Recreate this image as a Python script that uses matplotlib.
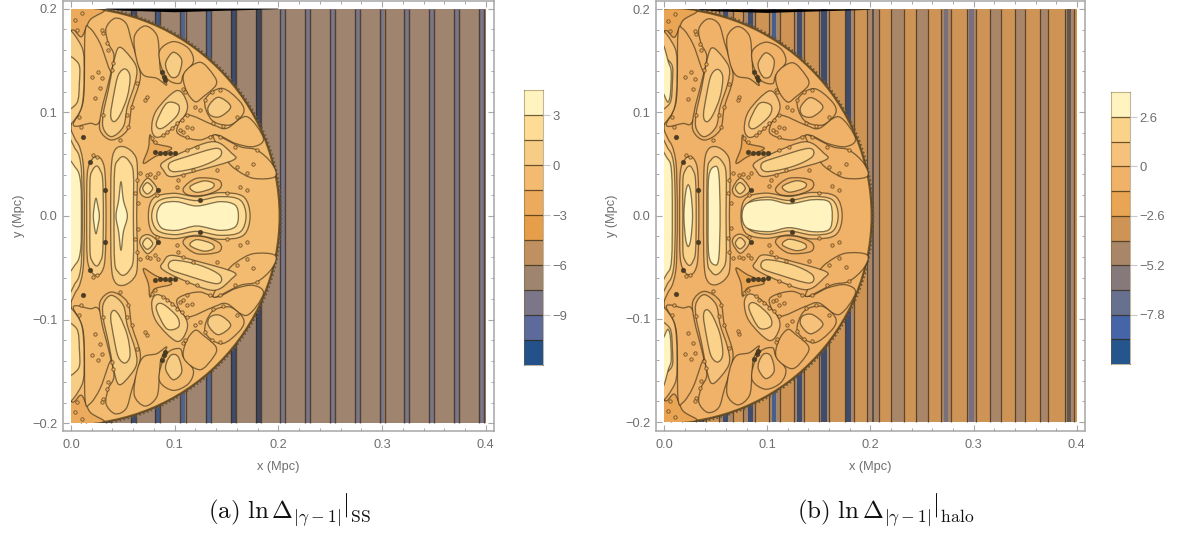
import matplotlib
matplotlib.use('Agg')
import matplotlib.pyplot as plt
from matplotlib.path import Path
from matplotlib.patches import PathPatch, Rectangle, Wedge, Polygon

plt.rcParams['font.family'] = ['Liberation Sans', 'DejaVu Sans']
plt.rcParams['mathtext.fontset'] = 'cm'

W, H = 1182, 534
GRAY = '#6e6e6e'
FRAME = '#a6a6a6'
LINE = (0.22, 0.17, 0.08, 0.62)

# colour bands, top to bottom
COLORS_A = ['#FFF3C0', '#FFDC95', '#F7CC85', '#F2BB70', '#EBAA5C', '#E69E4B',
            '#C09060', '#9F8570', '#7C7788', '#5C6B9B', '#23528A']
COLORS_B = ['#FFF3C0', '#FAD28A', '#F6C27B', '#EFB268', '#E9A454', '#CE9455',
            '#A98668', '#85797C', '#67708F', '#4565A8', '#24558C']
BAND_TOP_A, BAND_STEP_A = 4.5, 1.5
BAND_TOP_B, BAND_STEP_B = 3.9, 1.3
TICKS_A = [3, 0, -3, -6, -9]
TICKS_B = [2.6, 0, -2.6, -5.2, -7.8]
LABELS_A = ['3', '0', '\u22123', '\u22126', '\u22129']
LABELS_B = ['2.6', '0', '\u22122.6', '\u22125.2', '\u22127.8']

# stripe centres (Mpc)
STRIPES_A = [.012, .036, .060, .0836, .108, .1325, .1566, .1807, .2042, .228,
             .2522, .2763, .300, .3237, .3477, .372, .3957]
STRIPE_INNER_A = ['#3E4E70', '#3E4E70', '#3E4E70', '#465A80', '#4F6590', '#4F6590',
                  '#3F4C6C', '#3F4660', '#7C7788', '#7C7788', '#7C7788', '#7C7788',
                  '#7C7788', '#7C7788', '#7C7788', '#7C7788', '#7C7788']
# panel b: brown bands (left, right) and their cores (centre, width, colour)
BANDS_B = [(.007, .017), (.031, .041), (.053, .067), (.0765, .088), (.102, .112),
           (.126, .136), (.150, .160), (.175, .184), (.1967, .2083), (.2196, .2324),
           (.244, .2556), (.2687, .2784), (.2933, .3028), (.3163, .3266),
           (.3404, .350), (.3645, .3722), (.3883, .3973)]
CORES_B = [(.012, .005, '#33415f'), (.036, .005, '#33415f'), (.0598, .005, '#3F4C6C'),
           (.0839, .005, '#3F4C6C'), (.107, .004, '#46608c'), (.131, .005, '#3F4C6C'),
           (.155, .005, '#3F4C6C'), (.179, .005, '#3F4C6C'), (.2025, .0015, '#5b5048'),
           (.2735, .004, '#7a7078'), (.298, .005, '#777080'), (.3925, .004, '#62584f')]

# contour regions: (band index, points on the contour, in crop pixels, upper half)
CORNER = [(4, [(70, 30), (190, 30), (150, 60), (125, 110), (100, 90), (70, 100)])]
OUTLINES = [
    (3, [(135, 100), (150, 85), (180, 130), (205, 200), (215, 230), (200, 310), (175, 370), (150, 370), (100, 375), (130, 300)]),
    (3, [(198, 85), (225, 55), (258, 70), (275, 125), (295, 190), (300, 240), (275, 320), (262, 390), (215, 420),
         (180, 390), (185, 330), (205, 250), (222, 170), (205, 130)]),
    (3, [(283, 110), (315, 78), (350, 105), (358, 165), (362, 215), (380, 255), (350, 235), (310, 225), (290, 180)]),
    (3, [(360, 150), (400, 125), (445, 145), (460, 185), (430, 225), (420, 250), (385, 240), (362, 195)]),
    (3, [(432, 220), (480, 187), (520, 225), (528, 255), (490, 290), (465, 305), (438, 270)]),
    (3, [(495, 300), (545, 265), (600, 305), (610, 340), (570, 375), (515, 360)]),
    (3, [(440, 345), (520, 375), (560, 385), (620, 350), (670, 415), (640, 440), (585, 430), (530, 405), (480, 420), (430, 410), (410, 390)]),
    (3, [(520, 405), (600, 440), (650, 450), (695, 490), (705, 530), (640, 535), (590, 510), (560, 480)]),
    (3, [(430, 565), (470, 535), (535, 540), (540, 565), (495, 585), (445, 585)]),
    (4, [(310, 490), (325, 445), (330, 405), (345, 430), (395, 445), (345, 470)]),
]
LOBES = [
    (2, [(70, 100), (125, 140), (132, 230), (125, 320), (95, 370), (70, 385)]),
    (1, [(70, 175), (115, 190), (118, 250), (110, 310), (70, 320)]),
    (2, [(240, 142), (270, 170), (290, 205), (285, 250), (262, 320), (250, 380), (215, 410), (190, 385), (190, 340), (205, 270), (225, 170)]),
    (1, [(255, 207), (270, 230), (262, 290), (240, 345), (222, 365), (212, 345), (222, 280), (235, 225)]),
    (2, [(378, 185), (400, 157), (425, 180), (415, 225), (395, 232), (380, 210)]),
    (2, [(505, 320), (535, 292), (572, 320), (540, 350), (510, 345)]),
    (2, [(335, 385), (350, 330), (410, 272), (440, 305), (435, 345), (385, 395), (350, 412)]),
    (1, [(350, 365), (380, 310), (415, 315), (412, 345), (375, 380), (355, 385)]),
    (2, [(365, 490), (420, 460), (520, 425), (575, 460), (580, 480), (480, 510), (395, 530), (370, 510)]),
    (1, [(388, 490), (440, 470), (530, 445), (540, 470), (480, 500), (400, 515)]),
    (1, [(450, 560), (490, 543), (520, 550), (515, 565), (470, 577)]),
    (2, [(300, 565), (322, 535), (345, 555), (350, 575), (325, 592), (305, 585)]),
    (1, [(308, 565), (322, 548), (338, 565), (322, 582)]),
]
# regions straddling y = 0, upper half only
AXIAL = [
    (2, [(70, 410), (110, 425), (128, 480), (132, 560), (133, 648)]),
    (1, [(70, 435), (108, 450), (122, 490), (126, 560), (127, 648)]),
    (2, [(140, 648), (142, 520), (155, 480), (170, 470), (185, 480), (195, 520), (198, 648)]),
    (1, [(150, 648), (150, 540), (158, 510), (170, 498), (180, 510), (188, 540), (190, 648)]),
    (2, [(212, 648), (214, 500), (225, 450), (250, 440), (280, 460), (292, 500), (290, 648)]),
    (1, [(222, 648), (224, 510), (235, 480), (250, 470), (268, 485), (280, 520), (280, 648)]),
    (2, [(325, 648), (340, 595), (400, 580), (470, 590), (540, 578), (610, 590), (630, 648)]),
    (1, [(335, 648), (352, 605), (405, 592), (470, 602), (540, 590), (600, 600), (618, 648)]),
]
CORE_A = [
    (0, [(70, 495), (108, 505), (122, 550), (124, 648)]),
    (0, [(160, 648), (164, 610), (168, 595), (172, 610), (178, 648)]),
    (0, [(228, 648), (236, 600), (243, 545), (250, 600), (262, 648)]),
    (0, [(350, 648), (365, 612), (410, 605), (470, 618), (540, 605), (585, 615), (595, 648)]),
]
CORE_B = [
    (0, [(70, 470), (105, 478), (116, 520), (118, 648)]),
    (0, [(153, 648), (158, 580), (166, 555), (174, 580), (179, 648)]),
    (0, [(226, 648), (228, 530), (245, 500), (258, 520), (262, 648)]),
    (0, [(328, 648), (345, 610), (410, 600), (470, 612), (540, 600), (590, 606), (600, 648)]),
    (0, [(70, 185), (110, 195), (114, 250), (106, 305), (70, 315)]),
]
SPECK_DARK = [(345, 455), (360, 458), (375, 458), (390, 458), (405, 460), (372, 230), (375, 240),
              (365, 215), (130, 412), (150, 485), (195, 570), (355, 570), (480, 600)]
SPECK_RING = [(122, 380), (118, 350), (430, 268), (435, 275), (320, 290), (315, 300), (275, 320),
              (260, 345), (265, 380), (240, 420), (290, 250), (190, 345), (165, 295), (175, 215),
              (185, 235), (155, 230), (180, 265), (335, 415), (345, 425), (470, 440), (440, 450),
              (510, 410), (540, 410), (585, 440), (640, 492), (590, 500), (620, 520), (530, 510),
              (460, 510), (430, 525), (415, 540), (410, 560), (355, 520), (300, 520), (290, 540),
              (285, 580), (295, 610), (560, 580), (620, 570), (495, 300), (465, 320), (480, 330),
              (520, 370), (550, 378), (590, 350), (440, 410), (430, 395), (440, 380), (420, 390),
              (455, 385), (515, 275), (540, 270), (370, 405), (380, 395), (395, 385), (410, 370),
              (425, 360), (440, 345), (200, 130), (205, 150), (190, 100), (185, 90), (215, 210),
              (220, 190), (105, 60), (125, 40), (110, 90), (170, 470), (160, 465), (320, 525),
              (330, 522), (345, 530), (350, 585), (600, 560), (650, 450)]


def to_data(pts):
    return [((x - 93) / 3110, (648 - y) / 3110) for x, y in pts]


def mirror(pts):
    return [(x, -y) for x, y in pts]


def blob(pts):
    # closed smooth outline passing through the given points
    n = len(pts)
    verts, codes = [pts[0]], [Path.MOVETO]
    for i in range(n):
        p0, p1, p2, p3 = pts[i - 1], pts[i], pts[(i + 1) % n], pts[(i + 2) % n]
        verts += [(p1[0] + (p2[0] - p0[0]) / 6, p1[1] + (p2[1] - p0[1]) / 6),
                  (p2[0] - (p3[0] - p1[0]) / 6, p2[1] - (p3[1] - p1[1]) / 6), p2]
        codes += [Path.CURVE4] * 3
    return Path(verts, codes)


def add_region(ax, clip, colors, level, pts):
    p = PathPatch(blob(pts), facecolor=colors[level], edgecolor=LINE, lw=0.95, zorder=4)
    ax.add_patch(p)
    p.set_clip_path(clip)


def panel(px, colors, x0, y0, scale, core, kind, cbar, levels, ticks, labels):
    left, right, top, bottom = px
    ax = fig.add_axes([left / W, 1 - bottom / H, (right - left) / W, (bottom - top) / H])
    ax.set_xlim((left - x0) / scale, (right - x0) / scale)
    ax.set_ylim((y0 - bottom) / scale, (y0 - top) / scale)
    clip = Rectangle((0, -.2), .4, .4, transform=ax.transData)
    bg = Rectangle((0, -.2), .4, .4, facecolor=colors[7] if kind == 'a' else colors[5], edgecolor='none', zorder=1)
    ax.add_patch(bg)
    edge = (0.2, 0.15, 0.1, 0.7)
    if kind == 'a':
        for c, inner in zip(STRIPES_A, STRIPE_INNER_A):
            sp = Rectangle((c - .0023, -.2), .0046, .4, facecolor=inner, edgecolor='none', zorder=2)
            ax.add_patch(sp)
            ax.vlines([c - .0025, c + .0025], -.2, .2, colors=[edge], lw=1.0, zorder=3)
    else:
        for l, r in BANDS_B:
            ax.add_patch(Rectangle((l, -.2), r - l, .4, facecolor=colors[6], edgecolor='none', zorder=2))
            ax.vlines([l, r], -.2, .2, colors=[edge], lw=0.9, zorder=3)
        for c, w, col in CORES_B:
            ax.add_patch(Rectangle((c - w / 2, -.2), w, .4, facecolor=col, edgecolor='none', zorder=2.5))
    ring = Wedge((0, 0), .2022, -90, 90, facecolor='#54442c', edgecolor='none', zorder=3.5)
    ax.add_patch(ring)
    ring.set_clip_path(clip)
    teeth = Wedge((0, 0), .2028, -90, 90, facecolor='none', edgecolor='#6a5636', lw=1.4, ls=(0, (0.9, 1.2)), zorder=3.55)
    ax.add_patch(teeth)
    teeth.set_clip_path(clip)
    ring2 = Wedge((0, 0), .2008, -90, 90, facecolor=colors[3], edgecolor=(0.45, 0.32, 0.12, 0.9), lw=1.0, zorder=3.6)
    ax.add_patch(ring2)
    ring2.set_clip_path(clip)
    for level, pts in CORNER + OUTLINES + LOBES:
        d = to_data(pts)
        add_region(ax, clip, colors, level, d)
        add_region(ax, clip, colors, level, mirror(d))
    for level, pts in AXIAL + core:
        d = to_data(pts)
        low = [q for q in mirror(d)[::-1] if abs(q[1]) > 1e-9]
        add_region(ax, clip, colors, level, d + low)
    for pts, fc, ec, s in ((SPECK_RING, colors[4], (0.3, 0.22, 0.1, 0.75), 6), (SPECK_DARK, '#4a3d26', (0.25, 0.18, 0.07, 0.6), 10)):
        d = to_data(pts)
        for q in (d, mirror(d)):
            ax.scatter([a for a, b in q], [b for a, b in q], s=s, facecolor=fc, edgecolor=ec, lw=0.6, zorder=5, clip_on=True)
    # thin black sliver along the upper edge
    wedge = Polygon([(.032, .2), (.2, .2), (.2, .1995), (.10, .1965), (.05, .198)], closed=True, facecolor='black', edgecolor='none', zorder=6)
    ax.add_patch(wedge)

    ax.set_xticks([0, .1, .2, .3, .4])
    ax.set_xticklabels(['0.0', '0.1', '0.2', '0.3', '0.4'])
    ax.set_yticks([-.2, -.1, 0, .1, .2])
    ax.set_yticklabels(['\u22120.2', '\u22120.1', '0.0', '0.1', '0.2'])
    minor = [i / 50 for i in range(-10, 21)]
    ax.set_xticks([m for m in minor if 0 <= m <= .4], minor=True)
    ax.set_yticks([m for m in minor if -.2 <= m <= .2], minor=True)
    ax.tick_params(which='major', direction='in', length=4.2, width=0.8, color=FRAME, top=True, right=True,
                   labelsize=9.2, labelcolor=GRAY)
    ax.tick_params(axis='x', which='major', pad=6)
    ax.tick_params(axis='y', which='major', pad=4)
    ax.tick_params(which='minor', direction='in', length=2.5, width=0.7, color=FRAME, top=True, right=True)
    for s in ax.spines.values():
        s.set_color(FRAME)
        s.set_linewidth(1.1)
    ax.set_xlabel('x (Mpc)', fontsize=9.2, color=GRAY, labelpad=7)
    ax.set_ylabel('y (Mpc)', fontsize=9.2, color=GRAY, labelpad=5)

    cl, cr, ct, cb = cbar
    c = fig.add_axes([cl / W, 1 - cb / H, (cr - cl) / W, (cb - ct) / H])
    for i, col in enumerate(colors):
        c.bar(0, levels[i] - levels[i + 1], bottom=levels[i + 1], width=1, color=col, edgecolor='none')
    c.hlines(levels[1:-1], -.5, .5, colors=[(0.2, 0.15, 0.05, 0.7)], lw=0.9)
    c.set_xlim(-.5, .5)
    c.set_ylim(levels[-1], levels[0])
    c.set_xticks([])
    c.yaxis.tick_right()
    c.set_yticks(ticks)
    c.set_yticklabels(labels)
    c.tick_params(axis='y', direction='out', length=5, width=0.8, color='#c8c8c8', labelsize=9.4, labelcolor=GRAY, pad=2)
    for s in c.spines.values():
        s.set_color((0.45, 0.38, 0.2, 0.45))
        s.set_linewidth(0.8)
    return ax


def band_levels(top, step, n):
    return [top - i * step for i in range(n + 1)]


fig = plt.figure(figsize=(W / 100, H / 100), dpi=100, facecolor='white')
panel((63, 494, 1, 431), COLORS_A, 71, 216, 1037, CORE_A, 'a', (523.5, 542.7, 90, 365),
      band_levels(BAND_TOP_A, BAND_STEP_A, 11), TICKS_A, LABELS_A)
panel((656, 1085, 1, 430.5), COLORS_B, 664, 215.7, 1032, CORE_B, 'b', (1110.7, 1129.7, 92.3, 364),
      band_levels(BAND_TOP_B, BAND_STEP_B, 11), TICKS_B, LABELS_B)

fig.text(289 / W, 1 - 510 / H, r'$\mathrm{(a)}\ \ln\Delta_{|\gamma-1|}\left.\right|_{\mathrm{SS}}$',
         fontsize=18, ha='center', va='center', color='#111111')
fig.text(886 / W, 1 - 510 / H, r'$\mathrm{(b)}\ \ln\Delta_{|\gamma-1|}\left.\right|_{\mathrm{halo}}$',
         fontsize=18, ha='center', va='center', color='#111111')

fig.savefig('out.png', dpi=100)
